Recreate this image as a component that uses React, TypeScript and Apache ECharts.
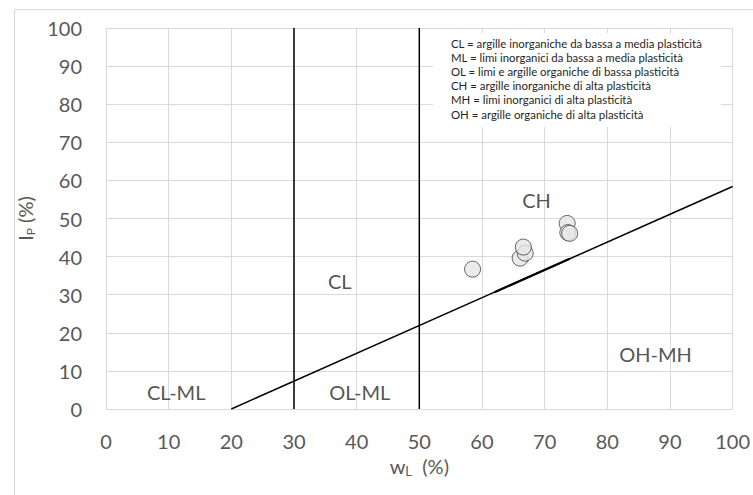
import React, { useEffect, useRef } from "react";
import * as echarts from "echarts";

const xTicks = [0, 10, 20, 30, 40, 50, 60, 70, 80, 90, 100];
const samplePoints: [number, number][] = [
  [58.5, 36.7],
  [66.1, 39.6],
  [66.9, 40.9],
  [66.6, 42.5],
  [73.6, 48.7],
  [73.7, 46.3],
  [74.0, 46.1],
];
const aLine: [number, number][] = [
  [20, 0],
  [100, 58.4],
];
const aLineSegment: [number, number][] = [
  [62, 30.66],
  [74, 39.42],
];
const line30: [number, number][] = [
  [30, 0],
  [30, 100],
];
const line50: [number, number][] = [
  [50, 0],
  [50, 100],
];
const zoneNames = ["CH", "CL", "OH-MH", "CL-ML", "OL-ML"];
const zonePositions: [number, number][] = [
  [68.7, 54.9],
  [37.3, 33.6],
  [87.7, 14.4],
  [11.2, 4.5],
  [40.5, 4.5],
];
const legendLines = [
  "CL = argille inorganiche da bassa a media plasticità",
  "ML = limi inorganici da bassa a media plasticità",
  "OL = limi e argille organiche di bassa plasticità",
  "CH = argille inorganiche di alta plasticità",
  "MH = limi inorganici di alta plasticità",
  "OH = argille organiche di alta plasticità",
];

const FONT = "Lato, 'Open Sans', sans-serif";

export default function App() {
  const ref = useRef<HTMLDivElement>(null);
  useEffect(() => {
    document.body.style.margin = "0";
    if (!ref.current) return;
    const chart = echarts.init(ref.current, null, { renderer: "svg" });
    const lineStyleBlack = { color: "#000000", width: 1.5 };
    chart.setOption({
      animation: false,
      backgroundColor: "#ffffff",
      grid: { left: 106, top: 28, width: 632, height: 381, containLabel: false },
      xAxis: {
        type: "value",
        min: 0,
        max: 100,
        interval: 10,
        name: "{a|w}{b|L}{a|  (%)}",
        nameLocation: "middle",
        nameGap: 45,
        nameTextStyle: {
          rich: {
            a: { fontSize: 20, fontFamily: FONT, color: "#595959" },
            b: { fontSize: 13, fontFamily: FONT, color: "#595959", padding: [10, 0, 0, 0] },
          },
        },
        axisLine: { show: false },
        axisTick: { show: false },
        splitLine: { show: true, lineStyle: { color: "#d9d9d9", width: 1 } },
        axisLabel: { color: "#595959", fontSize: 20, fontFamily: FONT, margin: 22 },
      },
      yAxis: {
        type: "value",
        min: 0,
        max: 100,
        interval: 10,
        name: "{a|I}{b|P}{a| (%)}",
        nameLocation: "middle",
        nameGap: 62,
        nameRotate: 90,
        nameTextStyle: {
          rich: {
            a: { fontSize: 20, fontFamily: FONT, color: "#595959" },
            b: { fontSize: 12, fontFamily: FONT, color: "#595959", padding: [10, 0, 0, 0] },
          },
        },
        axisLine: { show: false },
        axisTick: { show: false },
        splitLine: { show: true, lineStyle: { color: "#d9d9d9", width: 1 } },
        axisLabel: { color: "#595959", fontSize: 20, fontFamily: FONT, margin: 24 },
      },
      series: [
        { type: "line", data: aLine, symbol: "none", lineStyle: lineStyleBlack, z: 3 },
        { type: "line", data: aLineSegment, symbol: "none", lineStyle: { color: "#000", width: 2.3 }, z: 3 },
        { type: "line", data: line30, symbol: "none", lineStyle: lineStyleBlack, z: 3 },
        { type: "line", data: line50, symbol: "none", lineStyle: lineStyleBlack, z: 3 },
        {
          type: "scatter",
          data: samplePoints,
          symbol: "circle",
          symbolSize: 16,
          itemStyle: { color: "#e7e6e6", borderColor: "#404040", borderWidth: 1 },
          z: 5,
        },
        {
          type: "scatter",
          data: zonePositions.map((p, i) => ({ value: p, name: zoneNames[i] })),
          symbolSize: 0,
          label: {
            show: true,
            position: "inside",
            formatter: (p: any) => p.name,
            fontSize: 20,
            fontFamily: FONT,
            color: "#262626",
          },
          z: 6,
        },
      ],
      graphic: [
        {
          type: "rect",
          left: 12,
          top: 7,
          shape: { width: 760, height: 500 },
          style: { fill: "none", stroke: "#d9d9d9", lineWidth: 1 },
          silent: true,
          z: -1,
        },
        {
          type: "rect",
          left: 433,
          top: 33,
          shape: { width: 288, height: 94 },
          style: { fill: "#ffffff", stroke: "none" },
          z: 10,
        },
        {
          type: "text",
          left: 451,
          top: 36,
          style: {
            text: legendLines.join("\n"),
            fontSize: 11.4,
            lineHeight: 14.2,
            fontFamily: FONT,
            fill: "#262626",
          },
          z: 11,
        },
      ],
    });
    return () => chart.dispose();
  }, []);
  return <div ref={ref} style={{ width: 753, height: 495 }} />;
}
